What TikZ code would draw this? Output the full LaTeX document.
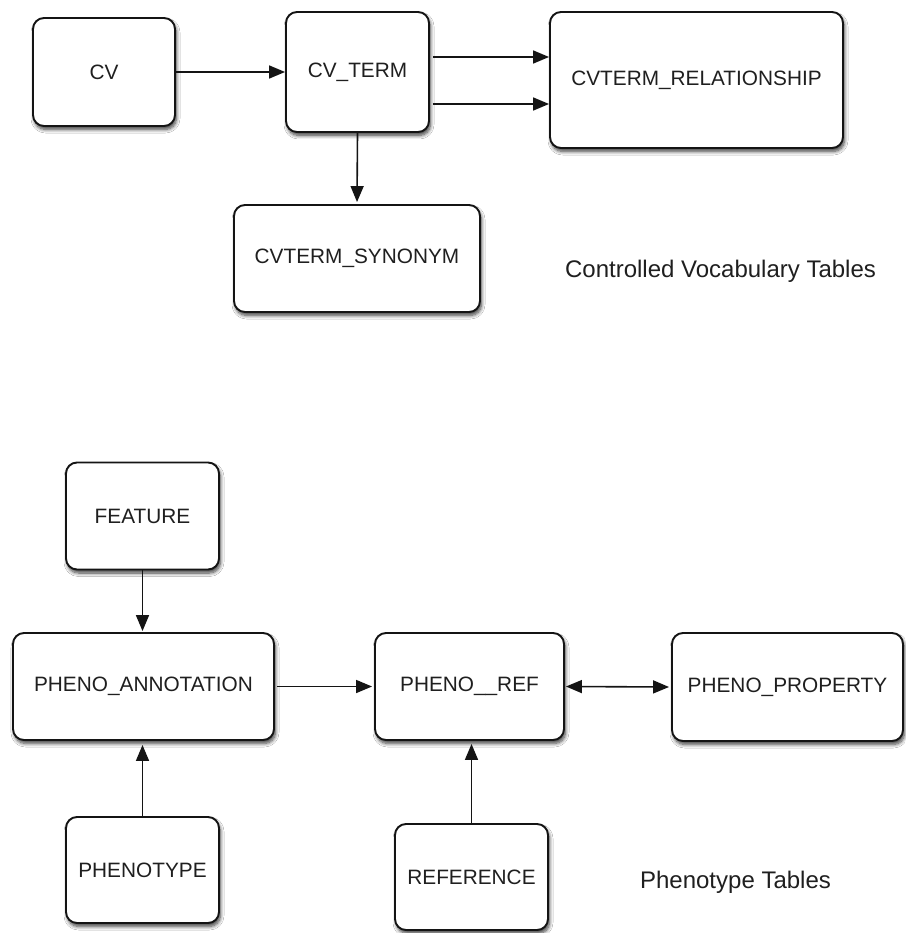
\documentclass[tikz,border=0pt]{standalone}
\usepackage{fontspec}
\setmainfont{Liberation Sans}
\usetikzlibrary{arrows.meta,shadows.blur}
\tikzset{
  tbl/.style={draw=black!92, line width=1.9pt, rounded corners=11pt, fill=white,
    inner sep=0pt, font=\fontsize{20.8}{24}\selectfont, text=black!88,
    blur shadow={shadow xshift=1.5pt, shadow yshift=-3.5pt, shadow blur steps=8, shadow blur radius=3.5pt, shadow opacity=75}},
  tip/.tip={Triangle[length=16pt,width=13pt]},
  arr/.style={-tip, line width=1.6pt, draw=black!92},
  darr/.style={tip-tip, line width=1.6pt, draw=black!92},
  lbl/.style={font=\fontsize{24}{28}\selectfont, text=black!88, inner sep=0pt}
}
\begin{document}
\begin{tikzpicture}[x=1pt,y=-1pt]
\useasboundingbox[fill=white] (0,0) rectangle (905,933);
% Controlled vocabulary
\node[tbl, minimum width=142pt, minimum height=108pt] (cv) at (104,72) {CV};
\node[tbl, minimum width=143pt, minimum height=120pt] (cvterm) at (357.5,72) {CV\_TERM};
\node[tbl, minimum width=293pt, minimum height=136pt] (rel) at (696.5,80) {CVTERM\_RELATIONSHIP};
\node[tbl, minimum width=246pt, minimum height=107pt] (syn) at (357,258.5) {CVTERM\_SYNONYM};
\node[lbl] (cvlabel) at (720.5,271) {Controlled Vocabulary Tables};
\draw[arr] (cv.east) -- (cvterm.west);
\draw[arr, shorten <=3pt] ([yshift=15pt]cvterm.east) -- ([yshift=15pt]cvterm.east -| rel.west);
\draw[arr, shorten <=3pt] ([yshift=-32pt]cvterm.east) -- ([yshift=-32pt]cvterm.east -| rel.west);
\draw[arr, shorten >=2pt] (cvterm.south) -- (syn.north);
% Phenotype
\node[tbl, minimum width=153pt, minimum height=107pt] (feat) at (142.5,516) {FEATURE};
\node[tbl, minimum width=261pt, minimum height=107pt] (annot) at (143.5,686.5) {PHENO\_ANNOTATION};
\node[tbl, minimum width=189pt, minimum height=107pt] (pref) at (469.5,686.5) {PHENO\_\_REF};
\node[tbl, minimum width=231pt, minimum height=108pt] (prop) at (787.5,687) {PHENO\_PROPERTY};
\node[tbl, minimum width=153pt, minimum height=106pt] (ptype) at (142.5,870) {PHENOTYPE};
\node[tbl, minimum width=153pt, minimum height=106pt] (reference) at (471.5,877) {REFERENCE};
\node[lbl] (phlabel) at (735.5,882) {Phenotype Tables};
\draw[arr, shorten >=1pt] (feat.south) -- (feat.south |- annot.north);
\draw[arr, shorten <=2pt, shorten >=2pt] (annot.east) -- (pref.west);
\draw[darr, shorten <=1pt, shorten >=2pt] (pref.east) -- (prop.west);
\draw[arr, shorten >=4pt] (ptype.north) -- (ptype.north |- annot.south);
\draw[arr, shorten >=3pt] (reference.north) -- (reference.north |- pref.south);
\end{tikzpicture}
\end{document}
